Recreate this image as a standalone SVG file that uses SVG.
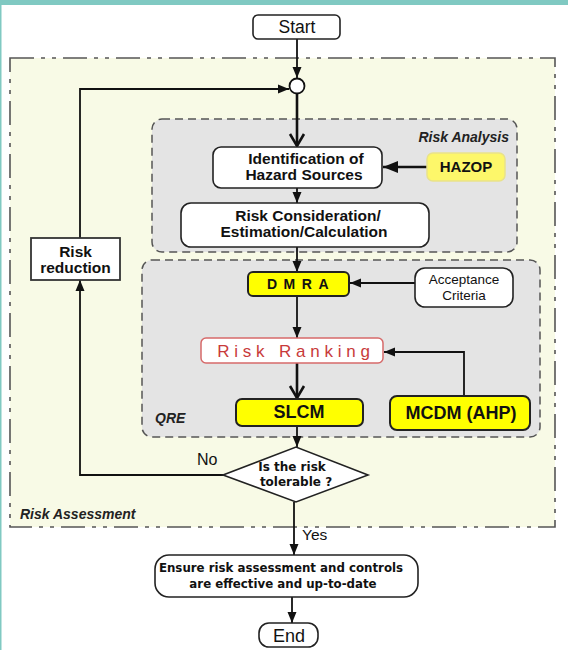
<svg xmlns="http://www.w3.org/2000/svg" width="568" height="650" viewBox="0 0 568 650">
<defs>
<marker id="tri" markerUnits="userSpaceOnUse" markerWidth="12" markerHeight="12" viewBox="0 0 12 12" refX="11" refY="6" orient="auto">
<path d="M0,1.5 L11,6 L0,10.5 Z" fill="#111"/>
</marker>
<marker id="trib" markerUnits="userSpaceOnUse" markerWidth="16" markerHeight="14" viewBox="0 0 16 14" refX="15" refY="7" orient="auto">
<path d="M0,1 L15,7 L0,13 Z" fill="#111"/>
</marker>
<marker id="vee" markerUnits="userSpaceOnUse" markerWidth="18" markerHeight="18" viewBox="0 0 18 18" refX="15" refY="9" orient="auto">
<path d="M3,2 L15,9 L3,16" fill="none" stroke="#111" stroke-width="2.6"/>
</marker>
</defs>
<style>
.t{font-family:"Liberation Sans",Arial,sans-serif;fill:#111}
.b{font-weight:bold}
.bi{font-weight:bold;font-style:italic;fill:#222}
.dv{font-family:"DejaVu Sans",Verdana,sans-serif;font-weight:bold;fill:#111}
.box{fill:#fff;stroke:#222;stroke-width:1.6}
.yel{fill:#ffff00;stroke:#222;stroke-width:2}
.grp{fill:#e4e4e4;stroke:#555;stroke-width:1.5;stroke-dasharray:8 5}
.c{fill:none;stroke:#111;stroke-width:1.8}
.ct{fill:none;stroke:#111;stroke-width:2.6}
</style>
<rect x="0" y="0" width="568" height="650" fill="#fff"/>
<rect x="0" y="0" width="568" height="5" fill="#80c9c2"/>
<rect x="0" y="0" width="1.5" height="650" fill="#80c9c2"/>

<g id="risk-assessment">
<rect x="10" y="58" width="545" height="469" fill="#f8fae6" stroke="#555" stroke-width="1.6" stroke-dasharray="24 7 4 7 4 7"/>
<text class="t bi" x="20" y="519" font-size="14">Risk Assessment</text>
</g>
<g id="risk-analysis">
<rect class="grp" x="152" y="119" width="365" height="133" rx="10"/>
<text class="t bi" x="509" y="142" font-size="14" text-anchor="end">Risk Analysis</text>
</g>
<g id="qre">
<rect class="grp" x="142" y="260" width="398" height="177" rx="10"/>
<text class="t bi" x="155" y="423" font-size="14">QRE</text>
</g>

<g id="connectors">
<path class="c" d="M297,39 V78" marker-end="url(#tri)"/>
<path class="c" d="M80,238 V89 H289" marker-end="url(#tri)"/>
<path class="ct" d="M297,93 V146" marker-end="url(#vee)"/>
<path class="ct" d="M427,167 H383" marker-end="url(#trib)"/>
<path class="c" d="M297,188 V203" marker-end="url(#tri)"/>
<path class="c" d="M297,247 V272" marker-end="url(#tri)"/>
<path class="c" d="M415,283 H350" marker-end="url(#tri)"/>
<path class="c" d="M297,296 V338" marker-end="url(#tri)"/>
<path class="c" d="M464,396 V352 H384" marker-end="url(#tri)"/>
<path class="ct" d="M297,363 V398" marker-end="url(#vee)"/>
<path class="c" d="M297,425 V447" marker-end="url(#tri)"/>
<path class="c" d="M223,475 H80 V280" marker-end="url(#tri)"/>
<path class="c" d="M294,502 V555" marker-end="url(#tri)"/>
<path class="c" d="M292,597 V623" marker-end="url(#tri)"/>
<text class="t" x="197" y="465" font-size="16">No</text>
<text class="t" x="302" y="540" font-size="15.5">Yes</text>
</g>

<g id="start">
<rect class="box" x="253" y="15" width="87" height="24" rx="5"/>
<text class="t" x="297" y="33" font-size="17.5" text-anchor="middle">Start</text>
</g>
<g id="merge">
<circle cx="297" cy="86" r="7.5" fill="#fff" stroke="#111" stroke-width="1.8"/>
</g>
<g id="identification">
<rect class="box" x="213" y="147" width="169" height="41" rx="8"/>
<text class="t b" x="306" y="164" font-size="15.5" text-anchor="middle">Identification of</text>
<text class="t b" x="304" y="180" font-size="15.5" text-anchor="middle">Hazard Sources</text>
</g>
<g id="hazop">
<rect x="427" y="153" width="78" height="28" rx="6" fill="#fdf76a" stroke="#e9e28a" stroke-width="1.5"/>
<text class="t b" x="466" y="172" font-size="15" text-anchor="middle">HAZOP</text>
</g>
<g id="risk-consideration">
<rect class="box" x="181" y="203" width="248" height="44" rx="10"/>
<text class="t b" x="308" y="221" font-size="15.5" text-anchor="middle">Risk Consideration/</text>
<text class="t b" x="304" y="237" font-size="15.5" text-anchor="middle">Estimation/Calculation</text>
</g>
<g id="dmra">
<rect class="yel" x="248" y="272" width="101" height="24" rx="5"/>
<text class="t b" x="301" y="289" font-size="14" text-anchor="middle" letter-spacing="6.5">DMRA</text>
</g>
<g id="acceptance">
<rect class="box" x="415" y="268" width="98" height="39" rx="10"/>
<text class="t" x="464" y="284" font-size="13.5" text-anchor="middle">Acceptance</text>
<text class="t" x="464" y="300" font-size="13.5" text-anchor="middle">Criteria</text>
</g>
<g id="risk-ranking">
<rect x="201" y="338" width="182" height="25" rx="5" fill="#fff" stroke="#d66a6a" stroke-width="1.5"/>
<text class="t" x="296" y="357" font-size="17" text-anchor="middle" letter-spacing="4.8" style="fill:#c83a3a">Risk Ranking</text>
</g>
<g id="slcm">
<rect class="yel" x="236" y="399" width="127" height="27" rx="6"/>
<text class="t b" x="299" y="418" font-size="18" text-anchor="middle">SLCM</text>
</g>
<g id="mcdm">
<rect class="yel" x="390" y="396" width="140" height="34" rx="7"/>
<text class="t b" x="461" y="419" font-size="18" text-anchor="middle">MCDM (AHP)</text>
</g>
<g id="decision">
<polygon points="223,475 296,447 368,475 296,502" fill="#fff" stroke="#222" stroke-width="1.6"/>
<text class="dv" x="292" y="471" font-size="12" text-anchor="middle">Is the risk</text>
<text class="dv" x="296" y="486" font-size="12" text-anchor="middle">tolerable ?</text>
</g>
<g id="risk-reduction">
<rect x="31" y="238" width="89" height="42" fill="#fff" stroke="#333" stroke-width="1.8"/>
<text class="t b" x="75.5" y="257" font-size="15.5" text-anchor="middle">Risk</text>
<text class="t b" x="75.5" y="273" font-size="15.5" text-anchor="middle">reduction</text>
</g>
<g id="ensure">
<rect class="box" x="155" y="555" width="263" height="42" rx="14"/>
<text class="dv" x="281" y="572" font-size="11.8" text-anchor="middle">Ensure risk assessment and controls</text>
<text class="dv" x="283" y="588" font-size="11.8" text-anchor="middle">are effective and up-to-date</text>
</g>
<g id="end">
<rect class="box" x="259" y="623" width="59" height="24" rx="10"/>
<text class="t" x="289" y="642" font-size="18" text-anchor="middle">End</text>
</g>
</svg>
